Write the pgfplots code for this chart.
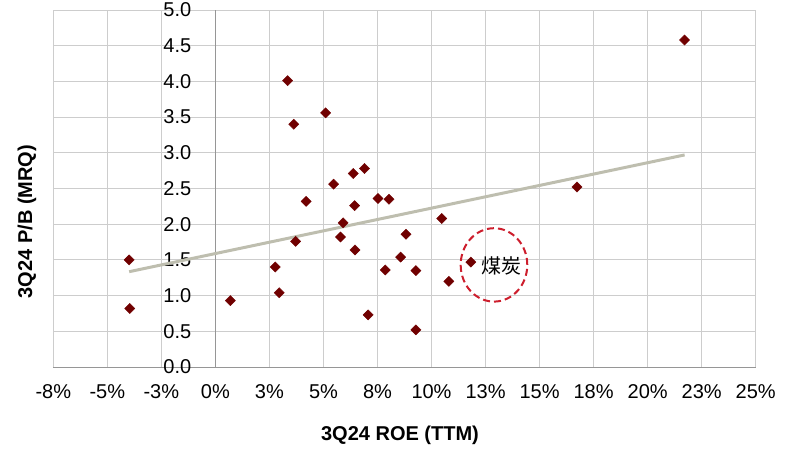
\documentclass[border=0pt]{standalone}
\usepackage{pgfplots}
\pgfplotsset{compat=1.18}
\usepackage{fontspec}
\setmainfont{Liberation Sans}
\newfontfamily\cjk{Noto Sans CJK SC}
\definecolor{ptc}{RGB}{112,0,0}
\definecolor{trend}{RGB}{190,190,175}
\definecolor{gridc}{RGB}{205,205,205}
\definecolor{axc}{RGB}{150,150,150}
\definecolor{circ}{RGB}{205,30,45}
\begin{document}
\begin{tikzpicture}
\useasboundingbox (0,0) rectangle (793pt,464pt);
\begin{axis}[
  at={(53.3pt,97pt)}, anchor=south west,
  scale only axis, width=702.4pt, height=357pt,
  xmin=-7.5, xmax=25, ymin=0, ymax=5,
  axis x line=bottom, axis y line=center,
  axis line style={-, draw=axc, line width=1pt},
  hide obscured x ticks=false, hide obscured y ticks=false,
  xtick={-7.5,-5,-2.5,0,2.5,5,7.5,10,12.5,15,17.5,20,22.5,25},
  xticklabels={-8\%,-5\%,-3\%,0\%,3\%,5\%,8\%,10\%,13\%,15\%,18\%,20\%,23\%,25\%},
  ytick={0,0.5,1,1.5,2,2.5,3,3.5,4,4.5,5},
  /pgf/number format/assume math mode=true,
  yticklabel style={/pgf/number format/fixed, /pgf/number format/fixed zerofill, /pgf/number format/precision=1},
  major tick length=0pt,
  grid=major,
  major grid style={draw=gridc, line width=0.9pt},
  tick label style={font=\fontsize{20}{24}\selectfont, text=black},
  xticklabel style={anchor=center, inner sep=0pt, yshift=-25pt},
  yticklabel style={anchor=east, inner sep=0pt, xshift=-24pt},
  xlabel={3Q24 ROE (TTM)},
  ylabel={3Q24 P/B (MRQ)},
  label style={font=\bfseries\fontsize{20}{24}\selectfont},
  xlabel style={at={(axis description cs:0.4936,-0.1905)}, anchor=center},
  ylabel style={at={(axis description cs:-0.0374,0.4076)}, anchor=center, rotate=90},
  clip=false,
]
\addplot[only marks, mark=square*, mark size=3.6pt, mark options={rotate=45, fill=ptc, draw=ptc}] table {
x y
-3.99 1.50
-3.96 0.82
0.69 0.93
2.77 1.40
2.95 1.04
3.34 4.01
3.63 3.40
3.71 1.76
4.20 2.32
5.10 3.56
5.47 2.56
5.79 1.82
5.91 2.02
6.38 2.71
6.44 2.26
6.46 1.64
6.90 2.78
7.07 0.73
7.52 2.36
7.86 1.36
8.03 2.35
8.57 1.54
8.82 1.86
9.28 1.35
9.28 0.52
10.47 2.08
10.80 1.20
11.82 1.47
16.73 2.52
21.71 4.58
};
\addplot[trend, line width=3pt, no marks] coordinates {(-3.99,1.335) (21.71,2.97)};
\draw[circ, line width=2pt, dash pattern=on 7pt off 4pt] (axis cs:12.89,1.43) ellipse [x radius=33.3pt, y radius=36.7pt];
\node[font=\cjk\fontsize{20}{24}\selectfont, text=black] at (axis cs:13.24,1.415) {煤炭};
\end{axis}
\end{tikzpicture}
\end{document}
